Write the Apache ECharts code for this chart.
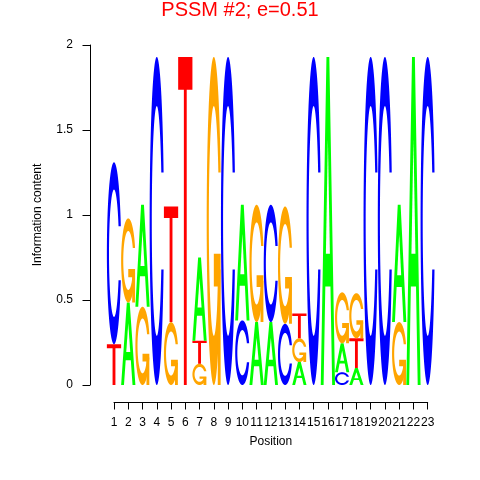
<!DOCTYPE html>
<html><head><meta charset="utf-8">
<script src="https://cdn.jsdelivr.net/npm/echarts@6/dist/echarts.min.js"></script>
<style>html,body{margin:0;padding:0;background:#fff}#c{width:480px;height:480px}</style>
</head><body><div id="c"></div>
<script>
// ---- data ----
const positions = [1,2,3,4,5,6,7,8,9,10,11,12,13,14,15,16,17,18,19,20,21,22,23];
const heightA = [0, 0.485, 0.60, 0, 0, 0, 0.49, 0, 0, 0.68, 0.37, 0.37, 0, 0.135, 0, 1.93, 0.17, 0.10, 0, 0, 0.69, 1.93, 0];
const heightC = [1.07, 0, 0, 1.93, 0, 0, 0, 0, 1.93, 0.38, 0, 0.69, 0.36, 0, 1.93, 0, 0.075, 0, 1.93, 1.93, 0, 0, 1.93];
const heightG = [0, 0.495, 0.46, 0, 0.37, 0, 0.125, 1.93, 0, 0, 0.69, 0, 0.69, 0.14, 0, 0, 0.30, 0.265, 0, 0, 0.37, 0, 0];
const heightT = [0.24, 0, 0, 0, 0.68, 1.93, 0.135, 0, 0, 0, 0, 0, 0, 0.145, 0, 0, 0, 0.175, 0, 0, 0, 0, 0];
const letters = ['A','C','G','T'];
const yTicks = [0, 0.5, 1, 1.5, 2];
const titleText = 'PSSM #2; e=0.51';

const colors = {A:'#00FF00', C:'#0000FF', G:'#FFA500', T:'#FF0000'};

// ---- letter shapes in unit box (x right, y up) ----
function ringC(){
  const n=100, a1=[], a2=[];
  for(let i=0;i<n;i++){ a1.push(0.3+Math.PI/2 + (Math.PI-(0.3+Math.PI/2))*i/(n-1)); a2.push(Math.PI + (0.5*Math.PI)*i/(n-1)); }
  const xl1=a1.map(a=>0.5+0.5*Math.sin(a)), yl1=a1.map(a=>0.5+0.5*Math.cos(a));
  const xl2=a2.map(a=>0.5+0.5*Math.sin(a)), yl2=a2.map(a=>0.5+0.5*Math.cos(a));
  const xl=xl1.concat(xl2), yl=yl1.concat(yl2);
  const x=xl.concat(xl.slice().reverse()), y=yl.concat(yl.slice().reverse().map(v=>1-v));
  const maxy=Math.max(...yl1);
  let xi1=a1.map(a=>0.5+0.35*Math.sin(a)), yi1=a1.map(a=>0.5+0.35*Math.cos(a));
  const keep=yi1.map(v=>v<=maxy);
  xi1=xi1.filter((v,i)=>keep[i]); yi1=yi1.filter((v,i)=>keep[i]); yi1[0]=maxy;
  const xi2=a2.map(a=>0.5+0.35*Math.sin(a)), yi2=a2.map(a=>0.5+0.35*Math.cos(a));
  const xi=xi1.concat(xi2), yi=yi1.concat(yi2);
  const x1=xi.concat(xi.slice().reverse()), y1=yi.concat(yi.slice().reverse().map(v=>1-v));
  const X=x.concat(x1.slice().reverse()), Y=y.concat(y1.slice().reverse());
  return {pts:X.map((v,i)=>[v,Y[i]]), r1:Math.max(...xl1)};
}
const C0 = ringC();
const shapes = {
  A: [{pts:[[0,0],[0.4,1],[0.6,1],[1,0],[0.8,0],[0.68,0.3],[0.32,0.3],[0.2,0]], fill:colors.A},
      {pts:[[0.36,0.4],[0.5,0.75],[0.64,0.4]], fill:'#FFFFFF'}],
  C: [{pts:C0.pts, fill:colors.C}],
  G: [{pts:C0.pts, fill:colors.G},
      {pts:[[C0.r1,0.4],[0.5,0.4],[0.5,0.3],[C0.r1-0.2,0.3],[C0.r1-0.2,0],[C0.r1,0]], fill:colors.G}],
  T: [{pts:[[0,1],[1,1],[1,0.9],[0.6,0.9],[0.6,0],[0.4,0],[0.4,0.9],[0,0.9]], fill:colors.T}]
};

// ---- build stacked letter items ----
const heights = {A:heightA, C:heightC, G:heightG, T:heightT};
const items = [];
positions.forEach((p,i)=>{
  const col = letters.map((l,k)=>({l, k, h:heights[l][i]})).filter(o=>o.h>0).sort((a,b)=>a.h-b.h);
  let y0=0;
  col.forEach(o=>{ items.push([p, y0, y0+o.h, o.k]); y0+=o.h; });
});

function renderItem(params, api){
  const pos=api.value(0), y0=api.value(1), y1=api.value(2), l=letters[api.value(3)];
  const p0=api.coord([pos-0.5, y0]), p1=api.coord([pos+0.5, y1]);
  const w=p1[0]-p0[0], h=p1[1]-p0[1];
  return {type:'group', children: shapes[l].map(s=>({
    type:'polygon', shape:{points:s.pts.map(q=>[p0[0]+q[0]*w, p0[1]+q[1]*h])},
    style:{fill:s.fill, stroke:null}
  }))};
}

const FONT='Liberation Sans';
const chart = echarts.init(document.getElementById('c'), null, {renderer:'canvas'});
chart.setOption({
  animation:false,
  backgroundColor:'#fff',
  title:{text:titleText, left:'center', top:-5, textStyle:{color:'#FF0000', fontSize:20, fontWeight:'normal', fontFamily:FONT}},
  grid:[
    {left:106.87, right:45.17, top:45, bottom:95},
    {left:114, right:52.3, top:45, bottom:95}
  ],
  xAxis:[
    {gridIndex:0, type:'value', min:0.5, max:23.5, show:false},
    {gridIndex:1, type:'value', min:1, max:23, interval:1, offset:17.5,
     axisLine:{show:true, onZero:false, lineStyle:{color:'#000', width:1}},
     axisTick:{show:true, length:7, lineStyle:{color:'#000'}},
     axisLabel:{show:true, margin:14, color:'#000', fontSize:12, fontFamily:FONT, showMinLabel:true, showMaxLabel:true,
       formatter:v=>String(positions[Math.round(v)-1])},
     splitLine:{show:false},
     name:'Position', nameLocation:'middle', nameGap:33, nameTextStyle:{color:'#000', fontSize:12, fontFamily:FONT}}
  ],
  yAxis:[
    {gridIndex:0, type:'value', min:0, max:2, show:false},
    {gridIndex:1, type:'value', min:0, max:2, interval:0.5, offset:24,
     axisLine:{show:true, onZero:false, lineStyle:{color:'#000', width:1}},
     axisTick:{show:true, length:7.5, lineStyle:{color:'#000'}},
     axisLabel:{show:true, margin:17, color:'#000', fontSize:12, fontFamily:FONT,
       formatter:v=>{const t=yTicks.find(q=>Math.abs(q-v)<1e-9); return t===undefined?'':String(t);}},
     splitLine:{show:false},
     name:'Information content', nameLocation:'middle', nameGap:46, nameTextStyle:{color:'#000', fontSize:12, fontFamily:FONT}}
  ],
  series:[{
    type:'custom', xAxisIndex:0, yAxisIndex:0, renderItem, data:items, clip:false, silent:true
  }]
});
</script></body></html>
